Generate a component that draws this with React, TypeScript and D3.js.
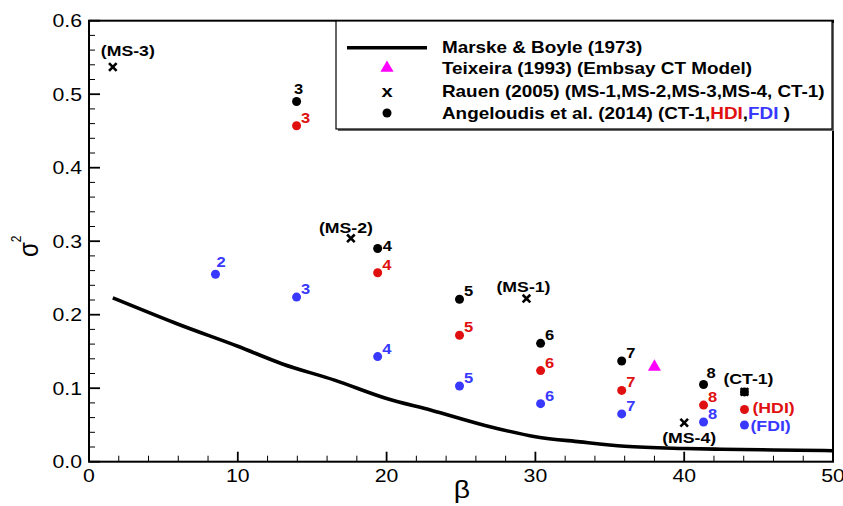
import * as d3 from "d3";
import React, { useRef, useEffect } from "react";

// Marske & Boyle (1973) curve
const curveBeta = [1.6, 2.8, 6, 10, 13, 16.5, 20, 23, 26.5, 30, 33, 36, 40, 42.5, 46, 50];
const curveSigma = [0.223, 0.213, 0.187, 0.157, 0.133, 0.111, 0.086, 0.07, 0.05, 0.034, 0.027, 0.021, 0.018, 0.017, 0.016, 0.015];

// Angeloudis et al. (2014)
const ct1Beta = [13.95, 19.4, 24.9, 30.35, 35.8, 41.3, 44.05];
const ct1Sigma = [0.49, 0.29, 0.221, 0.161, 0.137, 0.105, 0.095];
const ct1Label = ["3", "4", "5", "6", "7", "8", ""];

const hdiBeta = [13.95, 19.4, 24.9, 30.35, 35.8, 41.3, 44.05];
const hdiSigma = [0.457, 0.257, 0.172, 0.124, 0.097, 0.077, 0.071];
const hdiLabel = ["3", "4", "5", "6", "7", "8", "(HDI)"];

const fdiBeta = [8.5, 13.95, 19.4, 24.9, 30.35, 35.8, 41.3, 44.05];
const fdiSigma = [0.255, 0.224, 0.143, 0.103, 0.079, 0.065, 0.054, 0.05];
const fdiLabel = ["2", "3", "4", "5", "6", "7", "8", "(FDI)"];

// Rauen (2005)
const rauenBeta = [1.6, 17.6, 29.4, 40, 44.05];
const rauenSigma = [0.537, 0.304, 0.222, 0.053, 0.095];
const rauenLabel = ["(MS-3)", "(MS-2)", "(MS-1)", "(MS-4)", "(CT-1)"];

// Teixeira (1993)
const teixBeta = [38];
const teixSigma = [0.129];

const xTicks = [0, 10, 20, 30, 40, 50];
const yTicks = [0, 0.1, 0.2, 0.3, 0.4, 0.5, 0.6];

const RED = "#e01010";
const BLUE = "#3838ff";
const FONT = "'Liberation Sans', Arial, sans-serif";
const SX = 1.18; // the original is stretched sideways

// label nudges [dx, dy, anchor]
const nudge = {
  "ct1-3": [2, -8, "middle"],
  "ct1-4": [5, 2, "start"],
  "ct1-8": [3, -7, "start"],
  "fdi-2": [1, -7, "start"],
  "hdi-(HDI)": [8, 3.5, "start"],
  "fdi-(FDI)": [6, 6.5, "start"],
  "(MS-3)": [15, -11, "middle"],
  "(MS-2)": [-5, -5, "middle"],
  "(MS-1)": [-3, -7, "middle"],
  "(MS-4)": [5, 20.5, "middle"],
  "(CT-1)": [4, -7.5, "middle"],
};

function App() {
  const ref = useRef(null);

  useEffect(() => {
    const svg = d3.select(ref.current);
    svg.selectAll("*").remove();

    const x = d3.scaleLinear().domain([0, 50]).range([89, 833]);
    const y = d3.scaleLinear().domain([0, 0.6]).range([461.7, 20.7]);

    const txt = (g, px, py, s, size, weight, anchor, fill) =>
      g.append("text")
        .attr("transform", "translate(" + px + "," + py + ") scale(" + SX + ",1)")
        .attr("font-family", FONT)
        .attr("font-size", size)
        .attr("font-weight", weight)
        .attr("text-anchor", anchor)
        .attr("fill", fill)
        .text(s);

    const g = svg.append("g");

    // curve
    const line = d3.line()
      .x((d) => x(d[0]))
      .y((d) => y(d[1]))
      .curve(d3.curveMonotoneX);
    g.append("path")
      .datum(curveBeta.map((b, i) => [b, curveSigma[i]]))
      .attr("d", line)
      .attr("fill", "none")
      .attr("stroke", "#000")
      .attr("stroke-width", 3.6);

    // dots
    const dots = (bs, ss, labels, color, key) => {
      bs.forEach((b, i) => {
        const cx = x(b), cy = y(ss[i]);
        g.append("circle").attr("cx", cx).attr("cy", cy).attr("r", 4.5).attr("fill", color);
        if (!labels[i]) return;
        const n = nudge[key + "-" + labels[i]] || [4.5, -3, "start"];
        const big = labels[i].length > 1;
        txt(g, cx + n[0], cy + n[1], labels[i], big ? 15 : 14, "bold", n[2], color);
      });
    };
    dots(fdiBeta, fdiSigma, fdiLabel, BLUE, "fdi");
    dots(hdiBeta, hdiSigma, hdiLabel, RED, "hdi");
    dots(ct1Beta, ct1Sigma, ct1Label, "#000", "ct1");

    // crosses
    const cross = (sel, cx, cy, r) => {
      sel.append("path")
        .attr("d", "M" + (cx - r) + "," + (cy - r) + "L" + (cx + r) + "," + (cy + r) +
          "M" + (cx - r) + "," + (cy + r) + "L" + (cx + r) + "," + (cy - r))
        .attr("stroke", "#000")
        .attr("stroke-width", 2.6);
    };
    rauenBeta.forEach((b, i) => {
      const cx = x(b), cy = y(rauenSigma[i]);
      cross(g, cx, cy, 3.8);
      const n = nudge[rauenLabel[i]];
      txt(g, cx + n[0], cy + n[1], rauenLabel[i], 15, "bold", n[2], "#000");
    });

    // triangle
    const tri = d3.symbol().type(d3.symbolTriangle).size(75);
    teixBeta.forEach((b, i) => {
      g.append("path")
        .attr("d", tri())
        .attr("transform", "translate(" + x(b) + "," + y(teixSigma[i]) + ")")
        .attr("fill", "#ff00ff");
    });

    // frame
    g.append("rect")
      .attr("x", x(0)).attr("y", y(0.6))
      .attr("width", x(50) - x(0)).attr("height", y(0) - y(0.6))
      .attr("fill", "none").attr("stroke", "#000").attr("stroke-width", 2);

    // ticks (inward)
    const xMinor = d3.range(0, 50.01, 2);
    const yMinor = d3.range(0, 0.6001, 0.02);
    xMinor.forEach((t) => {
      const major = xTicks.includes(t);
      g.append("line").attr("x1", x(t)).attr("x2", x(t))
        .attr("y1", y(0)).attr("y2", y(0) - (major ? 10 : 6))
        .attr("stroke", "#000").attr("stroke-width", major ? 1.8 : 1);
    });
    yMinor.forEach((t) => {
      const major = Math.abs(t * 10 - Math.round(t * 10)) < 1e-6;
      g.append("line").attr("y1", y(t)).attr("y2", y(t))
        .attr("x1", x(0)).attr("x2", x(0) + (major ? 11 : 6))
        .attr("stroke", "#000").attr("stroke-width", major ? 1.8 : 1);
    });
    xTicks.forEach((t) => txt(g, x(t), 482, String(t), 18, "normal", "middle", "#000"));
    yTicks.forEach((t) => txt(g, 82, y(t) + 6.5, d3.format(".1f")(t), 18, "normal", "end", "#000"));

    // axis titles
    txt(g, 462, 498, "β", 24, "normal", "middle", "#000");
    const st = g.append("text")
      .attr("transform", "translate(38,257) scale(" + SX + ",1) rotate(-90)")
      .attr("font-family", FONT)
      .attr("font-size", 24);
    st.append("tspan").text("σ");
    st.append("tspan").attr("font-size", 12).attr("dy", -14).text("2");

    // legend
    const lg = svg.append("g");
    lg.append("rect").attr("x", 338).attr("y", 23).attr("width", 496).attr("height", 108).attr("fill", "#666");
    lg.append("rect").attr("x", 336).attr("y", 21).attr("width", 496).attr("height", 108)
      .attr("fill", "#fff").attr("stroke", "#000").attr("stroke-width", 1.2);
    const lx = 442, ly = [52.5, 74, 96.5, 118.5];
    lg.append("line").attr("x1", 347).attr("x2", 427).attr("y1", 47.7).attr("y2", 47.7)
      .attr("stroke", "#000").attr("stroke-width", 3.6);
    lg.append("path").attr("d", tri()).attr("transform", "translate(387,68)").attr("fill", "#ff00ff");
    txt(lg, 387, 97, "x", 17, "bold", "middle", "#000");
    lg.append("circle").attr("cx", 387).attr("cy", 113).attr("r", 4.5).attr("fill", "#000");
    txt(lg, lx, ly[0], "Marske & Boyle (1973)", 16, "bold", "start", "#000");
    txt(lg, lx, ly[1], "Teixeira (1993) (Embsay CT Model)", 16, "bold", "start", "#000");
    txt(lg, lx, ly[2], "Rauen (2005) (MS-1,MS-2,MS-3,MS-4, CT-1)", 16, "bold", "start", "#000");
    const last = txt(lg, lx, ly[3], "Angeloudis et al. (2014) (CT-1,", 16, "bold", "start", "#000");
    last.append("tspan").attr("fill", RED).text("HDI");
    last.append("tspan").text(",");
    last.append("tspan").attr("fill", BLUE).text("FDI");
    last.append("tspan").text(" )");
  }, []);

  return (
    <div style={{ position: "absolute", left: 0, top: 0 }}>
      <svg ref={ref} width={843} height={506} style={{ display: "block", background: "#fff" }}></svg>
    </div>
  );
}

export default App;
